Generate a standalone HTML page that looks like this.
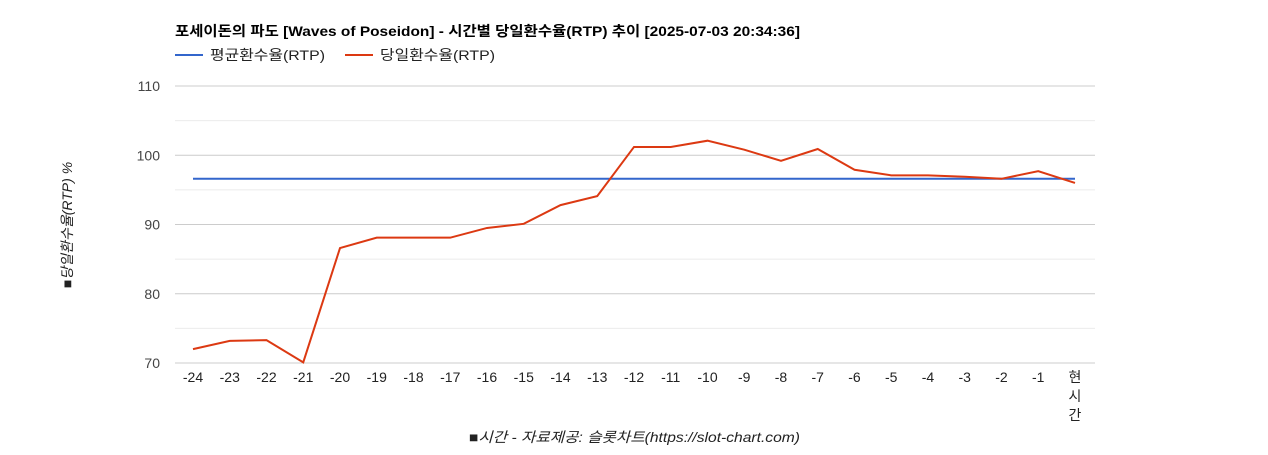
<!DOCTYPE html>
<html><head><meta charset="utf-8"><style>
body{margin:0;background:#fff;}
svg text{font-family:"Liberation Sans","Noto Sans CJK KR",sans-serif;}
</style></head><body>
<svg id="chart" width="1268" height="450" xmlns="http://www.w3.org/2000/svg">
<text x="175" y="36" font-size="14" font-weight="bold" fill="#000" textLength="625" lengthAdjust="spacingAndGlyphs">포세이돈의 파도 [Waves of Poseidon] - 시간별 당일환수율(RTP) 추이 [2025-07-03 20:34:36]</text>
<g>
<line x1="175" y1="55" x2="203" y2="55" stroke="#3366cc" stroke-width="2"/>
<text x="210" y="60" font-size="14" fill="#222" textLength="115" lengthAdjust="spacingAndGlyphs">평균환수율(RTP)</text>
<line x1="345" y1="55" x2="373" y2="55" stroke="#dc3912" stroke-width="2"/>
<text x="380" y="60" font-size="14" fill="#222" textLength="115" lengthAdjust="spacingAndGlyphs">당일환수율(RTP)</text>
</g>
<g id="grid"></g><g id="axes"></g><g id="series"></g>
<text transform="translate(72,225) rotate(-90)" text-anchor="middle" font-size="14" font-style="italic" fill="#222">■당일환수율(RTP) %</text>
<text x="469" y="442" font-size="14" font-style="italic" fill="#222" textLength="331" lengthAdjust="spacingAndGlyphs">■시간 - 자료제공: 슬롯차트(https://slot-chart.com)</text>
</svg>
<script>
const categories=["-24","-23","-22","-21","-20","-19","-18","-17","-16","-15","-14","-13","-12","-11","-10","-9","-8","-7","-6","-5","-4","-3","-2","-1","현시간"];
const dailyRTP=[72.0,73.2,73.3,70.1,86.6,88.1,88.1,88.1,89.5,90.1,92.8,94.1,101.2,101.2,102.1,100.8,99.2,100.9,97.9,97.1,97.1,96.9,96.6,97.7,96.0];
const averageRTP=[96.6,96.6,96.6,96.6,96.6,96.6,96.6,96.6,96.6,96.6,96.6,96.6,96.6,96.6,96.6,96.6,96.6,96.6,96.6,96.6,96.6,96.6,96.6,96.6,96.6];
const yTicks=[70,80,90,100,110];
const yMin=70,yMax=110;
const NS="http://www.w3.org/2000/svg";
const L=175,R=1095,T=86,B=363;
const y=v=>B-(v-yMin)/(yMax-yMin)*(B-T);
const step=(1075-193)/(categories.length-1);
const x=i=>193+i*step;
function mk(tag,attrs,parent){const e=document.createElementNS(NS,tag);for(const k in attrs)e.setAttribute(k,attrs[k]);parent.appendChild(e);return e;}
const grid=document.getElementById('grid'),axes=document.getElementById('axes'),series=document.getElementById('series');
for(let v=yMin;v<=yMax;v+=5){
 const major=yTicks.includes(v);
 const g=mk('line',{x1:L,x2:R,y1:y(v),y2:y(v),stroke:major?'#ccc':'#ebebeb','stroke-width':1},grid);
 
 
}
yTicks.forEach(v=>{
 const t=mk('text',{x:L-15,y:y(v)+5,'text-anchor':'end','font-size':14,fill:'#444'},axes);
 t.textContent=v;
 
 
});
categories.forEach((c,i)=>{
 if(c==="현시간"){
  ["현","시","간"].forEach((ch,j)=>{
   const t=mk('text',{x:x(i),y:382+j*19,'text-anchor':'middle','font-size':14,fill:'#222'},axes);
   t.textContent=ch;
   
   
  });
 } else {
  const t=mk('text',{x:x(i),y:382,'text-anchor':'middle','font-size':14,fill:'#222'},axes);
  t.textContent=c;
  
  
 }
});
function line(data,color,name){
 const p=mk('polyline',{points:data.map((v,i)=>x(i)+','+y(v)).join(' '),fill:'none',stroke:color,'stroke-width':2},series);
 
 
}
line(averageRTP,'#3366cc','average-rtp-line');
line(dailyRTP,'#dc3912','daily-rtp-line');
</script>
</body></html>
